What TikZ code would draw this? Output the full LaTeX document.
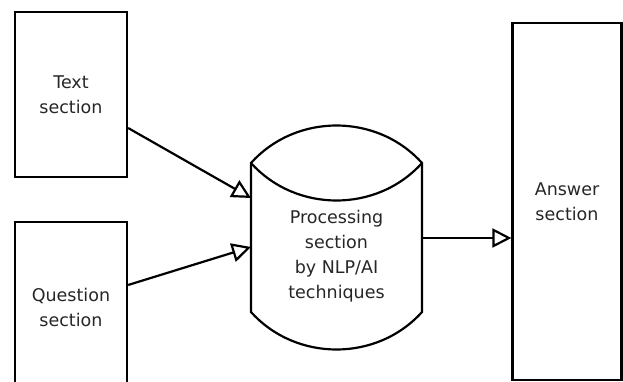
\documentclass[tikz,border=0pt]{standalone}
\usepackage{fontspec}
\setmainfont{DejaVu Sans}
\usetikzlibrary{calc,positioning,arrows.meta}
\tikzstyle{sectionbox} = [rectangle, draw=black, line width=2.2pt, inner sep=0pt, text centered, align=center, text=black!85, font=\fontsize{17.5}{25}\selectfont]
\tikzstyle{procbox} = [rectangle, inner sep=0pt, outer sep=0pt, minimum width=171pt, minimum height=187pt, align=center, text=black!85, font=\fontsize{17.5}{25}\selectfont]
\tikzstyle{arrow} = [line width=2.2pt,-{Triangle[open,length=19pt,width=19pt]}]
\tikzstyle{outline} = [line width=2.2pt, line join=miter]

\begin{document}
\begin{tikzpicture}[x=1pt,y=-1pt]
\clip (0,0) rectangle (623,382);
\useasboundingbox (0,0) rectangle (623,382);
 \node (txt) [sectionbox,minimum width=112pt,minimum height=165pt] at (71,94.5) {Text\\section};
 \node (qst) [sectionbox,minimum width=112pt,minimum height=170pt] at (71,307) {Question\\section};
 \node (proc) [procbox] at (336.5,256.5) {Processing\\section\\by NLP/AI\\techniques};
 \node (ans) [sectionbox,minimum width=109pt,minimum height=357pt] at (567,201.5) {Answer\\section};
% drum around the processing text
\draw [outline] (proc.north west) .. controls +(45,-50) and +(-45,-50) .. (proc.north east)
  -- ([yshift=38pt]proc.south east) .. controls +(-45,50) and +(45,50) .. ([yshift=38pt]proc.south west) -- cycle;
\draw [outline] (proc.north west) .. controls +(45,50) and +(-45,50) .. (proc.north east);
\draw [arrow] ([yshift=-33.5pt]txt.east) -- ([yshift=58.5pt]proc.west);
\draw [arrow] ([yshift=22pt]qst.east) -- ([yshift=9.5pt]proc.west);
\draw [arrow] ([yshift=18.5pt]proc.east) -- ([yshift=-36.5pt]ans.west);
  \end{tikzpicture}
\end{document}
